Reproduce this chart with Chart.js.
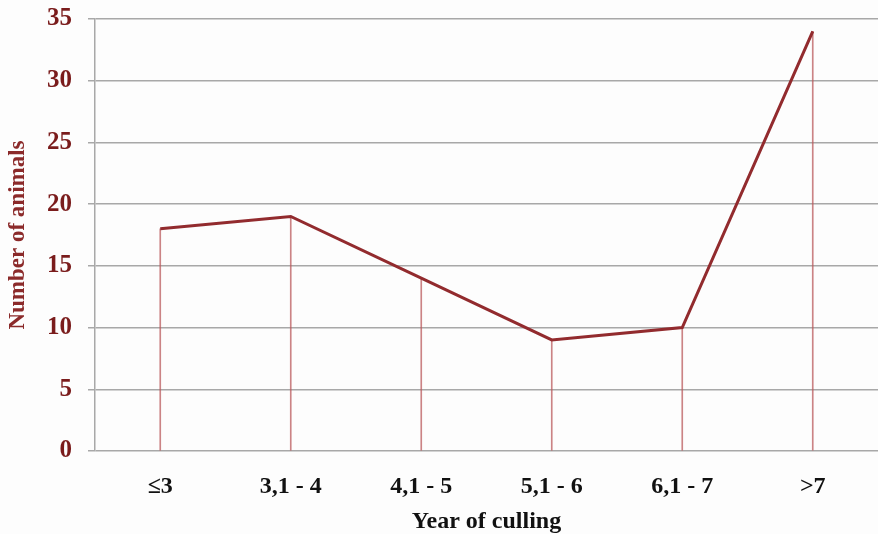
<!DOCTYPE html>
<html>
<head>
<meta charset="utf-8">
<script src="https://cdn.jsdelivr.net/npm/chart.js@4/dist/chart.umd.min.js"></script>
<style>
html,body{margin:0;padding:0;background:#fdfdfd;}
#wrap{width:878px;height:534px;position:relative;}
</style>
</head>
<body>
<div id="wrap"><canvas id="c" width="878" height="534"></canvas></div>
<script>
const categories = ['\u22643', '3,1 - 4', '4,1 - 5', '5,1 - 6', '6,1 - 7', '>7'];
const animals = [18, 19, 14, 9, 10, 34];
const yTicks = [0, 5, 10, 15, 20, 25, 30, 35];

const maroon = '#7a1c1c';
const serif = "'Liberation Serif', 'Times New Roman', serif";

new Chart(document.getElementById('c'), {
  data: {
    labels: categories,
    datasets: [
      {
        type: 'line',
        data: animals,
        borderColor: '#922b2e',
        borderWidth: 3,
        pointRadius: 0,
        tension: 0,
        order: 0
      },
      {
        type: 'bar',
        data: animals,
        backgroundColor: 'rgba(185,90,92,0.75)',
        barThickness: 1,
        order: 1
      }
    ]
  },
  options: {
    responsive: false,
    animation: false,
    layout: { padding: { left: 0, right: 0, top: 19, bottom: 0 } },
    plugins: { legend: { display: false }, tooltip: { enabled: false } },
    scales: {
      x: {
        grid: { display: false, drawTicks: false },
        border: { display: false },
        ticks: {
          color: '#111',
          font: { family: serif, size: 24, weight: 'bold' },
          padding: 21,
          maxRotation: 0
        },
        title: {
          display: true,
          text: 'Year of culling',
          color: '#111',
          font: { family: serif, size: 24, weight: 'bold' },
          padding: { top: 0, bottom: -2 }
        },
        afterFit: s => { s.height = 83; }
      },
      y: {
        min: 0,
        max: 35,
        afterBuildTicks: s => { s.ticks = yTicks.map(v => ({ value: v })); },
        grid: { color: '#a8a8a8', lineWidth: 1.5, tickLength: 7 },
        border: { display: true, color: '#a8a8a8', width: 1.5 },
        ticks: {
          color: maroon,
          font: { family: serif, size: 25, weight: 'bold' },
          padding: 16
        },
        title: {
          display: true,
          text: 'Number of animals',
          color: '#8b2a2a',
          font: { family: serif, size: 23, weight: 'bold' },
          padding: { top: 4, bottom: 0 }
        },
        afterFit: s => { s.width = 95; s.paddingTop = 0; s.paddingBottom = 0; }
      }
    }
  }
});
</script>
</body>
</html>
